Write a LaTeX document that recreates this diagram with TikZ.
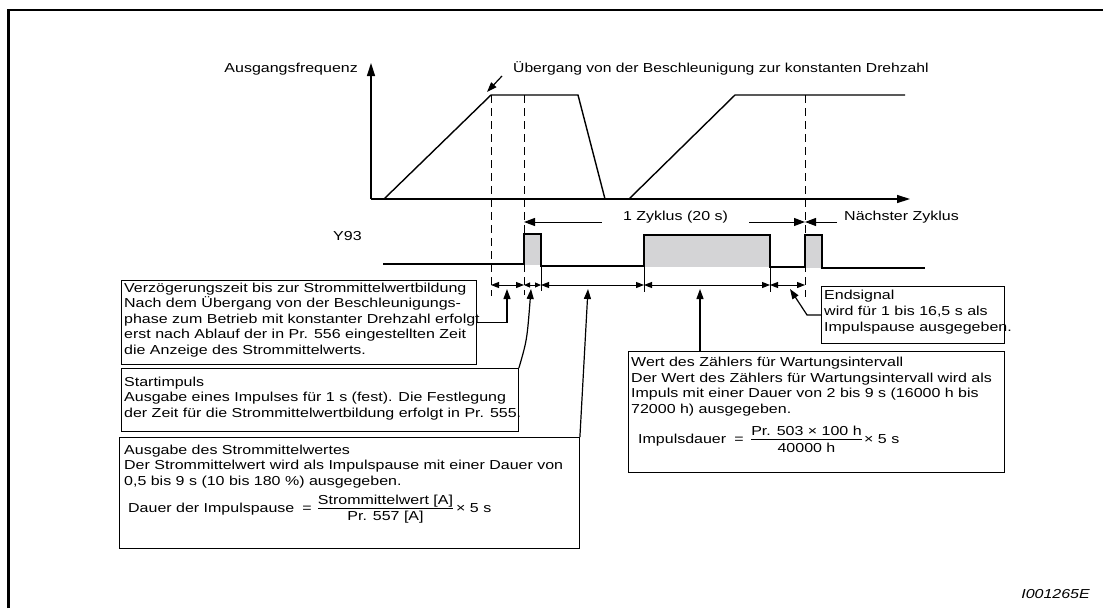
\documentclass[tikz,border=0pt]{standalone}
\usepackage{fontspec}
\setmainfont{Liberation Sans}[FakeStretch=1.23]
\usetikzlibrary{arrows.meta,calc}
\definecolor{pulsegray}{RGB}{212,212,214}
\begin{document}
\begin{tikzpicture}[x=1pt,y=-1pt,
  font=\fontsize{13}{15.5}\selectfont,
  txt/.style={anchor=base west,inner sep=0pt},
  box/.style={draw,line width=0.9pt,inner sep=0pt,anchor=north west},
  axis/.style={line width=1.4pt,-{Triangle[length=13pt,width=8pt]}},
  curve/.style={line width=1.4pt},
  guide/.style={line width=1pt,dash pattern=on 8pt off 5pt},
  sig/.style={line width=1.4pt},
  ext/.style={line width=0.9pt},
  dimline/.style={line width=1pt,{Triangle[length=8pt,width=6pt]}-{Triangle[length=8pt,width=6pt]}},
  dimsmall/.style={line width=1pt,{Triangle[length=6pt,width=5pt]}-{Triangle[length=6pt,width=5pt]}},
  cyc/.style={line width=1pt,-{Triangle[length=11pt,width=8pt]}},
  ptr/.style={line width=1.2pt,-{Triangle[length=10pt,width=7pt]}},
  bar/.style={line width=0.8pt}
]
\useasboundingbox (0,0) rectangle (1103,608);
% frame
\draw[line width=2.7pt] (8.5,608) -- (8.5,10) -- (1103,10);

% axes and frequency curve
\coordinate (O) at (371,199);
\draw[axis] (O) -- (371,63);
\draw[axis] (O) -- (910,199);
\node[txt,anchor=base east] (ylab) at (358,72) {Ausgangsfrequenz};
\node[txt,xscale=0.98] (trans) at (513,72) {Übergang von der Beschleunigung zur konstanten Drehzahl};
\coordinate (ramptop) at (491,95);
\draw[ptr] ($(trans.base west)+(-11,4)$) -- (487,92);
\draw[curve] (384,199) -- (ramptop) -- (578,95) -- (605,199);
\draw[curve] (629,199) -- (735,95) -- (905,95);

% dashed guides
\draw[guide] (ramptop) -- (491,296);
\draw[guide] (524,95) -- (524,295);
\draw[guide] (805,95) -- (805,297);

% cycle arrows
\coordinate (cl) at (524,222);
\coordinate (cr) at (805,222);
\node[anchor=base,inner xsep=21pt,inner ysep=0pt] (zyk) at (675.5,220.5) {1 Zyklus (20 s)};
\draw[cyc] (cl -| zyk.west) -- (cl);
\draw[cyc] (cr -| zyk.east) -- (cr);
\node[txt,inner xsep=7pt] (next) at (837,220.5) {Nächster Zyklus};
\draw[cyc] (cr -| next.west) -- (cr);

% Y93 signal
\node[txt] (y93) at (333,240.5) {Y93};
\fill[pulsegray] (524,234) rectangle (541,265);
\fill[pulsegray] (644,235) rectangle (770,266.5);
\fill[pulsegray] (805,235) rectangle (822,268);
\draw[sig] (383,264) -- (524,264) -- (524,234) -- (541,234) -- (541,266) -- (644,266)
  -- (644,235) -- (770,235) -- (770,267) -- (805,267) -- (805,235) -- (822,235)
  -- (822,268) -- (925,268);
\draw[ext] (541,266) -- (541,291);
\draw[ext] (644,266) -- (644,292);
\draw[ext] (770,267) -- (770,292);

% dimension row
\draw[dimline] (491,285) -- (524,285);
\draw[dimsmall] (524,285) -- (541,285);
\draw[dimline] (541,285) -- (644,285);
\draw[dimline] (644,285) -- (770,285);
\draw[dimline] (770,285) -- (805,285);

% boxes
\node[box,minimum width=355pt,minimum height=84pt] (b1) at (121,280) {};
\node[box,minimum width=397pt,minimum height=63pt] (b2) at (121,368) {};
\node[box,minimum width=460pt,minimum height=111pt] (b3) at (119,437) {};
\node[box,minimum width=376pt,minimum height=121pt] (b4) at (628,351) {};
\node[box,minimum width=183pt,minimum height=57pt] (b5) at (821,286) {};

% box 1 text
\node[txt] (t11) at (124,292) {Verzögerungszeit bis zur Strommittelwertbildung};
\node[txt] (t12) at (124,307.5) {Nach dem Übergang von der Beschleunigungs-};
\node[txt] (t13) at (124,323) {phase zum Betrieb mit konstanter Drehzahl erfolgt};
\node[txt] (t14) at (124,338.5) {erst nach Ablauf der in Pr. 556 eingestellten Zeit};
\node[txt] (t15) at (124,354) {die Anzeige des Strommittelwerts.};

% box 2 text
\node[txt] (t21) at (124,386) {Startimpuls};
\node[txt] (t22) at (124,401.5) {Ausgabe eines Impulses für 1 s (fest). Die Festlegung};
\node[txt] (t23) at (124,417) {der Zeit für die Strommittelwertbildung erfolgt in Pr. 555.};

% box 3 text
\node[txt] (t31) at (124,454) {Ausgabe des Strommittelwertes};
\node[txt] (t32) at (124,469.5) {Der Strommittelwert wird als Impulspause mit einer Dauer von};
\node[txt] (t33) at (124,485) {0,5 bis 9 s (10 bis 180 \%) ausgegeben.};
\node[txt] (f31) at (128,512) {Dauer der Impulspause};
\node[txt,anchor=base] (f32) at (307,512) {=};
\node[txt,anchor=base] (f33) at (385.5,504) {Strommittelwert [A]};
\node[txt,anchor=base] (f34) at (385.5,520) {Pr. 557 [A]};
\draw[bar] (318,508) -- (453,508);
\node[txt] (f35) at (456,512) {× 5 s};

% box 4 text
\node[txt] (t41) at (631,366.5) {Wert des Zählers für Wartungsintervall};
\node[txt] (t42) at (631,382) {Der Wert des Zählers für Wartungsintervall wird als};
\node[txt] (t43) at (631,397.5) {Impuls mit einer Dauer von 2 bis 9 s (16000 h bis};
\node[txt] (t44) at (631,413) {72000 h) ausgegeben.};
\node[txt] (f41) at (638,443.5) {Impulsdauer};
\node[txt,anchor=base] (f42) at (739,443.5) {=};
\node[txt,anchor=base] (f43) at (806.5,435.5) {Pr. 503 × 100 h};
\node[txt,anchor=base] (f44) at (806.5,452) {40000 h};
\draw[bar] (751,439.5) -- (862,439.5);
\node[txt] (f45) at (864,443.5) {× 5 s};

% box 5 text
\node[txt] (t51) at (824,299.5) {Endsignal};
\node[txt] (t52) at (824,315.5) {wird für 1 bis 16,5 s als};
\node[txt] (t53) at (824,331.5) {Impulspause ausgegeben.};

% pointers
\coordinate (p1) at (507,289);
\draw[ptr] (b1.east) -- (b1.east -| p1) -- (p1);
\draw[ptr] (b2.north east) .. controls (527,340) .. (531,289);
\draw[ptr] (b3.north east) -- (588,289);
\coordinate (p4) at (700,289);
\draw[ptr] (p4 |- b4.north) -- (p4);
\coordinate (p5) at (790,289);
\draw[ptr] (b5.west) -- ++(-14,0) -- (p5);

% figure id
\node[txt,anchor=base east,font=\fontsize{13}{15.5}\selectfont\itshape] (fid) at (1090,598) {I001265E};
\end{tikzpicture}
\end{document}
